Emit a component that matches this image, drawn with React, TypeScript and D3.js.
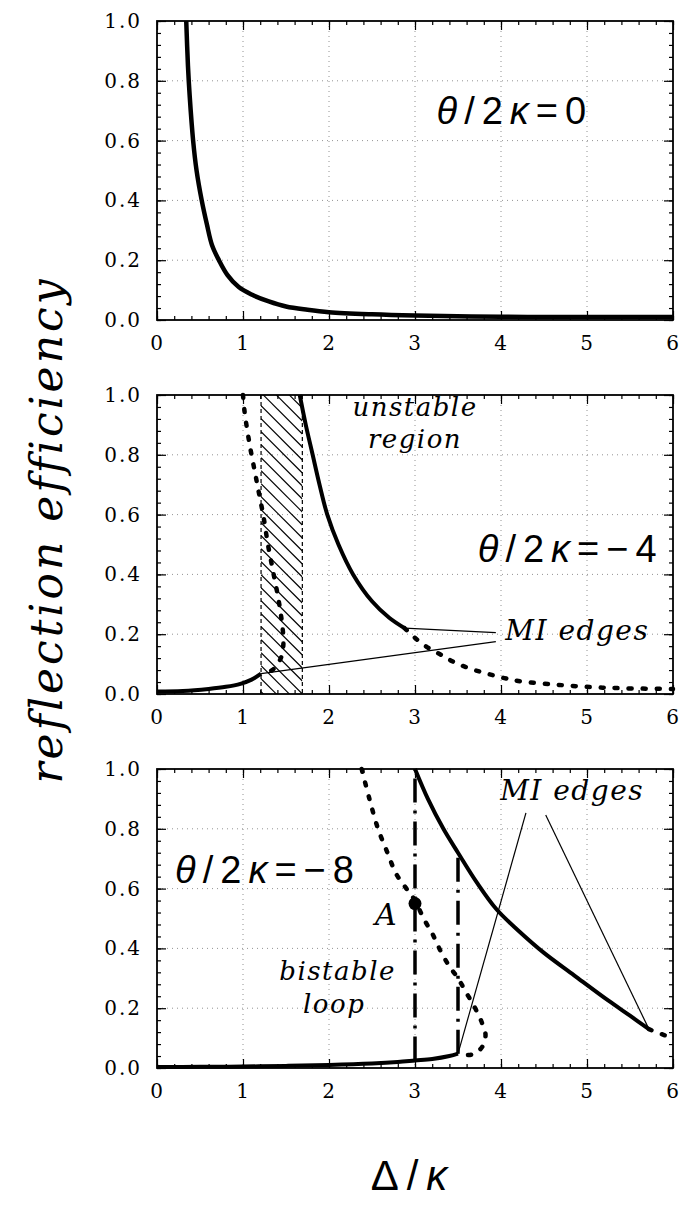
import { useEffect, useRef } from 'react';
import * as d3 from 'd3';

type Pt = [number, number];

// axis ticks
const xTicks = [0, 1, 2, 3, 4, 5, 6];
const yTicks = [0, 0.2, 0.4, 0.6, 0.8, 1.0];
const gridX = [1, 2, 3, 4, 5];
const gridY = [0.2, 0.4, 0.6, 0.8];

// panel labels (theta / 2 kappa)
const panelValues = ['0', '\u22124', '\u22128'];

// top panel: theta/2k = 0
const topCurve: Pt[] = [
  [0.34, 1.0], [0.36, 0.85], [0.38, 0.75], [0.42, 0.6], [0.46, 0.5], [0.52, 0.4],
  [0.58, 0.32], [0.64, 0.25], [0.72, 0.2], [0.82, 0.15], [0.95, 0.11], [1.1, 0.085],
  [1.3, 0.062], [1.5, 0.045], [1.75, 0.034], [2.0, 0.026], [2.5, 0.019], [3.0, 0.015],
  [4.0, 0.011], [5.0, 0.01], [6.0, 0.01],
];

// middle panel: theta/2k = -4
const midUpper: Pt[] = [
  [1.66, 1.0], [1.73, 0.9], [1.81, 0.8], [1.89, 0.7], [1.98, 0.6], [2.11, 0.5],
  [2.28, 0.4], [2.5, 0.31], [2.7, 0.255], [2.88, 0.22],
];
const midLower: Pt[] = [
  [0, 0.008], [0.3, 0.01], [0.6, 0.017], [0.8, 0.024], [0.97, 0.034], [1.1, 0.048], [1.21, 0.068],
];
const midDottedLeft: Pt[] = [
  [1.0, 1.0], [1.02, 0.94], [1.08, 0.83], [1.14, 0.74], [1.18, 0.68], [1.24, 0.59],
  [1.29, 0.5], [1.35, 0.41], [1.41, 0.32], [1.45, 0.245], [1.47, 0.17], [1.44, 0.12],
  [1.34, 0.08], [1.21, 0.068],
];
const midDottedRight: Pt[] = [
  [2.88, 0.22], [2.99, 0.19], [3.15, 0.155], [3.31, 0.13], [3.45, 0.107], [3.64, 0.085],
  [3.84, 0.068], [4.04, 0.053], [4.24, 0.042], [4.65, 0.031], [5.05, 0.023], [5.45, 0.019],
  [6.0, 0.017],
];
const unstableRange = [1.21, 1.69];
const midEdgeLines: [Pt, Pt][] = [
  [[2.88, 0.22], [3.94, 0.205]],
  [[1.21, 0.068], [3.94, 0.175]],
];

// bottom panel: theta/2k = -8
const botUpper: Pt[] = [
  [3.0, 1.0], [3.15, 0.9], [3.33, 0.8], [3.5, 0.72], [3.72, 0.62], [3.95, 0.53],
  [4.2, 0.46], [4.5, 0.385], [4.85, 0.31], [5.25, 0.225], [5.5, 0.175], [5.72, 0.13],
];
const botLower: Pt[] = [
  [0, 0.003], [0.5, 0.004], [1.0, 0.005], [1.5, 0.007], [2.0, 0.01], [2.5, 0.015],
  [2.8, 0.02], [3.0, 0.025], [3.2, 0.03], [3.4, 0.04], [3.5, 0.048],
];
const botDotted: Pt[] = [
  [2.38, 1.0], [2.47, 0.9], [2.57, 0.8], [2.68, 0.72], [2.78, 0.65], [2.9, 0.6],
  [3.0, 0.56], [3.1, 0.5], [3.2, 0.45], [3.3, 0.39], [3.4, 0.34], [3.5, 0.3],
  [3.6, 0.25], [3.7, 0.2], [3.78, 0.15], [3.82, 0.11], [3.78, 0.07], [3.66, 0.045], [3.5, 0.048],
];
const botDottedTail: Pt[] = [[5.72, 0.13], [5.85, 0.115], [6.0, 0.1]];
const botJumps: [Pt, Pt][] = [
  [[3.0, 0.025], [3.0, 1.0]],
  [[3.5, 0.048], [3.5, 0.72]],
];
const botEdgeLines: [Pt, Pt][] = [
  [[4.29, 0.853], [3.5, 0.048]],
  [[4.52, 0.846], [5.72, 0.13]],
];
const pointA: Pt = [3.0, 0.55];

const W = 685;
const H = 1205;
const LEFT = 157;
const RIGHT = 673;
const PANEL_TOPS = [21, 395, 769];
const PANEL_H = 299;

const SERIF = '"DejaVu Serif", serif';
const SANS = '"Liberation Sans", Arial, sans-serif';

export default function App() {
  const svgRef = useRef<SVGSVGElement>(null);

  useEffect(() => {
    const svg = d3.select(svgRef.current);
    svg.selectAll('*').remove();

    const x = d3.scaleLinear().domain([0, 6]).range([LEFT, RIGHT]);
    const line = (y: d3.ScaleLinear<number, number>) =>
      d3.line<Pt>().x(d => x(d[0])).y(d => y(d[1])).curve(d3.curveCatmullRom.alpha(0.5));

    const solid = (g: any, data: Pt[], y: any, w = 4) =>
      g.append('path').attr('d', line(y)(data)).attr('fill', 'none')
        .attr('stroke', '#000').attr('stroke-width', w).attr('stroke-linejoin', 'round');
    const dotted = (g: any, data: Pt[], y: any) =>
      g.append('path').attr('d', line(y)(data)).attr('fill', 'none')
        .attr('stroke', '#000').attr('stroke-width', 4.5)
        .attr('stroke-linecap', 'round').attr('stroke-dasharray', '3,11');
    const thin = (g: any, seg: [Pt, Pt], y: any) =>
      g.append('line').attr('x1', x(seg[0][0])).attr('y1', y(seg[0][1]))
        .attr('x2', x(seg[1][0])).attr('y2', y(seg[1][1]))
        .attr('stroke', '#000').attr('stroke-width', 1.2);

    const panels = PANEL_TOPS.map(top => {
      const y = d3.scaleLinear().domain([0, 1]).range([top + PANEL_H, top]);
      const g = svg.append('g');

      // dotted grid
      g.selectAll('line.gx').data(gridX).join('line').attr('class', 'gx')
        .attr('x1', d => x(d)).attr('x2', d => x(d)).attr('y1', top).attr('y2', top + PANEL_H)
        .attr('stroke', '#777').attr('stroke-width', 0.8).attr('stroke-dasharray', '1,4');
      g.selectAll('line.gy').data(gridY).join('line').attr('class', 'gy')
        .attr('y1', d => y(d)).attr('y2', d => y(d)).attr('x1', LEFT).attr('x2', RIGHT)
        .attr('stroke', '#777').attr('stroke-width', 0.8).attr('stroke-dasharray', '1,4');

      // axes with inward ticks
      const minorX = d3.range(0, 6.001, 0.2);
      const minorY = d3.range(0, 1.001, 0.04);
      const mk = (axis: any, tr: string) => {
        const a = g.append('g').attr('transform', tr).call(axis);
        a.select('.domain').remove();
        a.selectAll('line').attr('stroke', '#000').attr('stroke-width', 1.2);
        return a;
      };
      mk(d3.axisBottom(x).tickValues(minorX).tickSize(-4).tickFormat(() => ''), `translate(0,${top + PANEL_H})`);
      mk(d3.axisTop(x).tickValues(minorX).tickSize(-4).tickFormat(() => ''), `translate(0,${top})`);
      mk(d3.axisTop(x).tickValues(xTicks).tickSize(-9).tickFormat(() => ''), `translate(0,${top})`);
      mk(d3.axisLeft(y).tickValues(minorY).tickSize(-4).tickFormat(() => ''), `translate(${LEFT},0)`);
      mk(d3.axisRight(y).tickValues(minorY).tickSize(-4).tickFormat(() => ''), `translate(${RIGHT},0)`);
      mk(d3.axisRight(y).tickValues(yTicks).tickSize(-9).tickFormat(() => ''), `translate(${RIGHT},0)`);
      const bx = mk(d3.axisBottom(x).tickValues(xTicks).tickSize(-9).tickPadding(16).tickFormat(d3.format('d')),
        `translate(0,${top + PANEL_H})`);
      const ly = mk(d3.axisLeft(y).tickValues(yTicks).tickSize(-9).tickPadding(15).tickFormat(d3.format('.1f')),
        `translate(${LEFT},0)`);
      [bx, ly].forEach(a => a.selectAll('text').attr('fill', '#000')
        .style('font-family', SERIF).style('font-size', '20px').style('letter-spacing', '2px'));

      // frame
      g.append('rect').attr('x', LEFT).attr('y', top).attr('width', RIGHT - LEFT).attr('height', PANEL_H)
        .attr('fill', 'none').attr('stroke', '#000').attr('stroke-width', 1.8);

      return { g, y };
    });

    const labelTheta = (g: any, px: number, py: number, val: string) => {
      const t = g.append('text').attr('x', px).attr('y', py)
        .style('font-family', SANS).style('font-size', '38px').style('letter-spacing', '7px');
      t.append('tspan').style('font-style', 'italic').text('\u03b8');
      t.append('tspan').text('/2');
      t.append('tspan').style('font-style', 'italic').text('\u03ba');
      t.append('tspan').text('=' + val);
    };
    const italic = (g: any, px: number, py: number, s: string, size = 27, anchor = 'start') =>
      g.append('text').attr('x', px).attr('y', py).attr('text-anchor', anchor)
        .style('font-family', SERIF).style('font-style', 'italic')
        .style('font-size', `${size}px`).style('letter-spacing', '1.5px').text(s);

    // top panel
    {
      const { g, y } = panels[0];
      solid(g, topCurve, y, 4.5);
      labelTheta(g, x(3.25), y(0.655), panelValues[0]);
    }

    // middle panel
    {
      const { g, y } = panels[1];
      const [h0, h1] = unstableRange;
      const clipId = 'hatchClip';
      svg.append('clipPath').attr('id', clipId).append('rect')
        .attr('x', x(h0)).attr('y', y(1)).attr('width', x(h1) - x(h0)).attr('height', y(0) - y(1));
      const hatch = g.append('g').attr('clip-path', `url(#${clipId})`);
      const wpx = x(h1) - x(h0);
      hatch.selectAll('line').data(d3.range(y(1) - wpx, y(0) + 1, 13)).join('line')
        .attr('x1', x(h0)).attr('y1', d => d).attr('x2', x(h1)).attr('y2', d => d + wpx)
        .attr('stroke', '#000').attr('stroke-width', 1.1);
      [h0, h1].forEach(v => g.append('line').attr('x1', x(v)).attr('x2', x(v))
        .attr('y1', y(1)).attr('y2', y(0)).attr('stroke', '#000').attr('stroke-width', 1.2)
        .attr('stroke-dasharray', '4,3'));

      solid(g, midUpper, y);
      solid(g, midLower, y);
      dotted(g, midDottedLeft, y);
      dotted(g, midDottedRight, y);
      midEdgeLines.forEach(s => thin(g, s, y));

      italic(g, x(3.0), y(0.93), 'unstable', 26, 'middle');
      italic(g, x(3.0), y(0.822), 'region', 26, 'middle');
      italic(g, x(4.05), y(0.18), 'MI edges', 28);
      labelTheta(g, x(3.73), y(0.44), panelValues[1]);
    }

    // bottom panel
    {
      const { g, y } = panels[2];
      dotted(g, botDotted, y);
      dotted(g, botDottedTail, y);
      botJumps.forEach(s => g.append('line')
        .attr('x1', x(s[0][0])).attr('y1', y(s[0][1])).attr('x2', x(s[1][0])).attr('y2', y(s[1][1]))
        .attr('stroke', '#000').attr('stroke-width', 3.5).attr('stroke-dasharray', '24,8,3,8'));
      solid(g, botUpper, y);
      solid(g, botLower, y);
      botEdgeLines.forEach(s => thin(g, s, y));
      g.append('circle').attr('cx', x(pointA[0])).attr('cy', y(pointA[1])).attr('r', 6.5).attr('fill', '#000');
      italic(g, x(2.67), y(0.478), 'A', 30, 'middle');
      italic(g, x(2.1), y(0.295), 'bistable', 26, 'middle');
      italic(g, x(2.06), y(0.185), 'loop', 26, 'middle');
      italic(g, x(3.99), y(0.896), 'MI edges', 28);
      labelTheta(g, x(0.21), y(0.62), panelValues[2]);
    }

    // axis titles
    svg.append('text').attr('transform', 'translate(62,530) rotate(-90)').attr('text-anchor', 'middle')
      .style('font-family', SERIF).style('font-style', 'italic').style('font-size', '44px')
      .style('letter-spacing', '3px').text('reflection efficiency');
    const xl = svg.append('text').attr('x', 413).attr('y', 1190).attr('text-anchor', 'middle')
      .style('font-family', SANS).style('font-size', '42px').style('letter-spacing', '8px');
    xl.append('tspan').text('\u0394/');
    xl.append('tspan').style('font-style', 'italic').text('\u03ba');
  }, []);

  return (
    <div style={{ position: 'absolute', left: 0, top: 0, background: '#fff' }}>
      <svg ref={svgRef} width={W} height={H} style={{ display: 'block' }} />
    </div>
  );
}
